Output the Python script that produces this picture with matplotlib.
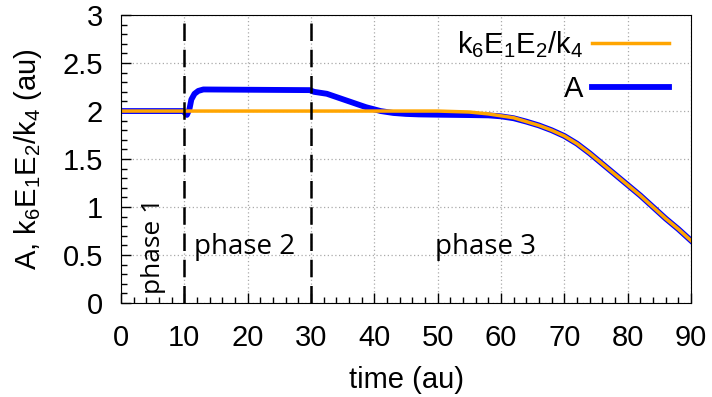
import matplotlib.pyplot as plt
import numpy as np

# time points (au) and curves
t_ref = [0, 50, 55, 58, 60, 62, 64, 66, 68, 70, 72, 74, 76, 78, 80, 82, 84, 86, 88, 90]
ref_vals = [2.0, 2.0, 1.99, 1.97, 1.95, 1.93, 1.89, 1.85, 1.80, 1.74, 1.66, 1.56, 1.45,
            1.34, 1.23, 1.12, 1.00, 0.88, 0.77, 0.65]

t_A = [0, 9.8, 10.4, 10.8, 11.1, 11.6, 12.2, 13, 20, 29.8, 30.5, 32.5, 35.6, 38.7, 41, 43,
       45, 47, 50, 55, 58, 60, 62, 64, 66, 68, 70, 72, 74, 76, 78, 80, 82, 84, 86, 88, 90]
A_vals = [2.0, 2.0, 1.96, 2.02, 2.12, 2.18, 2.21, 2.225, 2.222, 2.218, 2.2, 2.18, 2.11,
          2.04, 2.0, 1.98, 1.97, 1.965, 1.962, 1.958, 1.955, 1.945, 1.925, 1.89, 1.85, 1.80,
          1.74, 1.66, 1.56, 1.45, 1.34, 1.23, 1.12, 1.00, 0.88, 0.77, 0.65]

phase_bounds = [10, 30]

plt.rcParams['font.family'] = ['Liberation Sans', 'DejaVu Sans']
plt.rcParams['mathtext.fontset'] = 'custom'
plt.rcParams['mathtext.rm'] = 'Liberation Sans'
plt.rcParams['mathtext.it'] = 'Liberation Sans'

fig = plt.figure(figsize=(7.12, 3.97), dpi=100)
ax = fig.add_axes([0.170, 0.2368, 0.8005, 0.7252])

ax.plot(t_A, A_vals, color='#0000ff', lw=4.2, label='A')
ax.plot(t_ref, ref_vals, color='#ffa500', lw=2.5, label=r'k$_6$E$_1$E$_2$/k$_4$')

for b in phase_bounds:
    ax.plot([b, b], [0, 3], color='black', lw=1.8, dashes=(7, 3.5))

ax.set_xlim(0, 90)
ax.set_ylim(0, 3)
ax.set_xticks(np.arange(0, 91, 10))
ax.set_yticks(np.arange(0, 3.01, 0.5))
ax.set_yticklabels(['0', '0.5', '1', '1.5', '2', '2.5', '3'])
ax.set_xticks(np.arange(0, 91, 2), minor=True)
ax.set_yticks(np.arange(0, 3.01, 0.1), minor=True)
ax.tick_params(which='both', direction='in', top=False, right=False, labelsize=21)
ax.tick_params(which='major', length=7, width=1)
ax.tick_params(which='minor', length=4, width=1)
ax.tick_params(axis='x', pad=15)
ax.tick_params(axis='y', pad=13)
ax.grid(True, which='major', color='#aaaaaa', ls=(0, (1, 2)), lw=0.9)

ax.set_xlabel('time (au)', fontsize=21, labelpad=10)
ax.set_ylabel(r'A, k$_6$E$_1$E$_2$/k$_4$ (au)', fontsize=21, labelpad=13)

ax.text(5.2, 0.6, 'phase 1', rotation=90, ha='center', va='center', fontsize=19,
        family='Open Sans')
ax.text(19.5, 0.58, 'phase 2', ha='center', va='center', fontsize=20, family='Open Sans')
ax.text(57.5, 0.58, 'phase 3', ha='center', va='center', fontsize=20, family='Open Sans')

handles, labels = ax.get_legend_handles_labels()
ax.legend(handles[::-1], labels[::-1], loc='upper right', bbox_to_anchor=(0.982, 0.993),
          frameon=False, markerfirst=False, fontsize=21, handlelength=2.64,
          labelspacing=0.53, borderaxespad=0, handletextpad=0.3)

fig.savefig('out.png', dpi=100)
